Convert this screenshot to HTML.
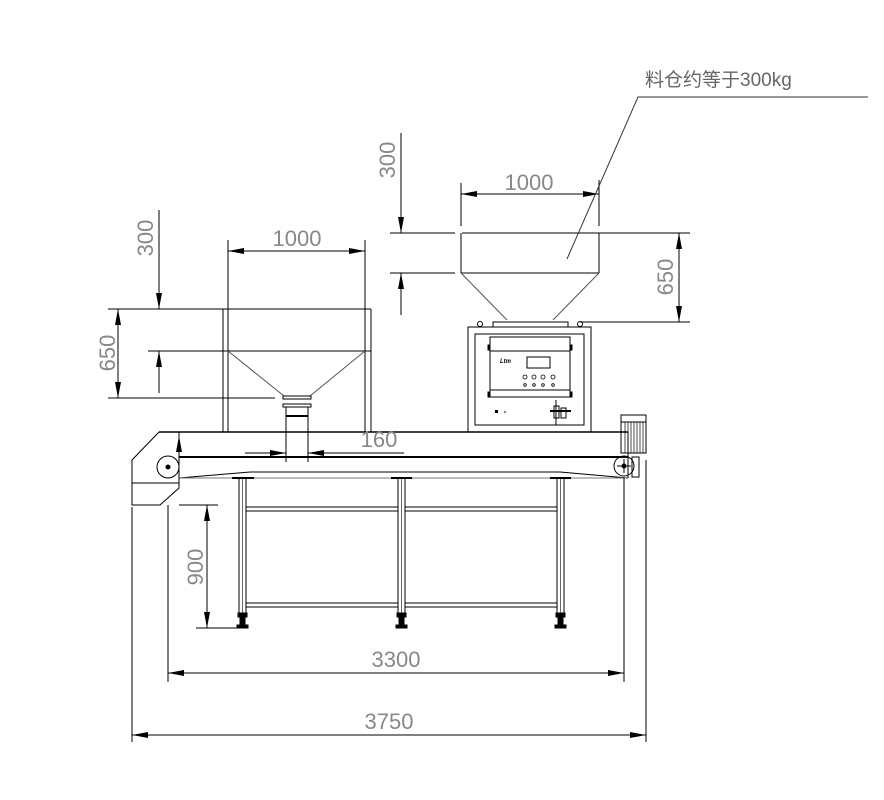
<!DOCTYPE html>
<html><head><meta charset="utf-8"><style>html,body{margin:0;padding:0;background:#fff}svg{display:block}</style></head><body>
<svg width="884" height="800" viewBox="0 0 884 800" xmlns="http://www.w3.org/2000/svg">
<defs>
<marker id="a" viewBox="0 0 16 6" refX="16" refY="3" markerWidth="16" markerHeight="6" markerUnits="userSpaceOnUse" orient="auto"><path d="M0,0L16,3L0,6z" fill="#000"/></marker>
</defs>
<g stroke="#000" stroke-width="1" fill="none">
<line x1="390" y1="233" x2="455" y2="233"/><line x1="462" y1="233" x2="690" y2="233"/>
<line x1="390" y1="273" x2="455" y2="273"/>
<line x1="461" y1="233" x2="461" y2="273"/><line x1="599" y1="233" x2="599" y2="273"/>
<line x1="461" y1="273" x2="599" y2="273"/>
<line x1="461" y1="273" x2="507" y2="320" stroke="#555"/><line x1="599" y1="273" x2="553" y2="320" stroke="#555"/>
<line x1="580" y1="322" x2="690" y2="322"/>
<line x1="461" y1="183" x2="461" y2="226"/><line x1="599" y1="180" x2="599" y2="226"/>
<line x1="530" y1="194" x2="599" y2="194" marker-end="url(#a)"/>
<line x1="530" y1="194" x2="461" y2="194" marker-end="url(#a)"/>
<line x1="401" y1="133" x2="401" y2="233" marker-end="url(#a)"/>
<line x1="401" y1="315" x2="401" y2="273" marker-end="url(#a)"/>
<line x1="679" y1="278" x2="679" y2="233" marker-end="url(#a)"/>
<line x1="679" y1="278" x2="679" y2="322" marker-end="url(#a)"/>
<polyline points="567,259 638,97 868,97" stroke="#333"/>
<line x1="108" y1="309" x2="371" y2="309"/>
<line x1="148" y1="351" x2="371" y2="351"/>
<line x1="108" y1="398" x2="275" y2="398"/>
<line x1="223" y1="309" x2="223" y2="432"/><line x1="228" y1="240" x2="228" y2="432"/>
<line x1="365" y1="240" x2="365" y2="432"/><line x1="371" y1="309" x2="371" y2="432"/>
<line x1="228" y1="351" x2="284" y2="396" stroke="#555"/><line x1="365" y1="351" x2="310" y2="396" stroke="#555"/>
<rect x="283" y="396" width="28" height="3"/>
<rect x="283" y="404" width="28" height="3"/>
<line x1="286" y1="407" x2="286" y2="462"/><line x1="308" y1="407" x2="308" y2="462"/>
<line x1="286" y1="416" x2="308" y2="416" stroke-width="2"/>
<line x1="297" y1="251" x2="365" y2="251" marker-end="url(#a)"/>
<line x1="297" y1="251" x2="228" y2="251" marker-end="url(#a)"/>
<line x1="159" y1="210" x2="159" y2="309" marker-end="url(#a)"/>
<line x1="159" y1="393" x2="159" y2="351" marker-end="url(#a)"/>
<line x1="118" y1="353" x2="118" y2="309" marker-end="url(#a)"/>
<line x1="118" y1="353" x2="118" y2="398" marker-end="url(#a)"/>
<line x1="159" y1="432" x2="628" y2="432" stroke-width="1.5"/>
<line x1="179" y1="457" x2="628" y2="457" stroke-width="2"/>
<polyline points="179,478 250,472 560,472 628,478"/>
<line x1="179" y1="478" x2="628" y2="478" stroke="#777"/>
<polyline points="159,432 132,460 132,505 160,505 179,488 179,432"/>
<line x1="132" y1="483" x2="179" y2="483"/>
<circle cx="168" cy="467" r="11"/><circle cx="168" cy="467" r="2" fill="#000"/>
<line x1="179" y1="457" x2="179" y2="436" marker-end="url(#a)"/>
<line x1="628" y1="432" x2="628" y2="478"/>
<rect x="632" y="457" width="7" height="20"/>
<circle cx="624" cy="466" r="10"/><circle cx="624" cy="466" r="2" fill="#000"/>
<line x1="617" y1="466" x2="631" y2="466"/><line x1="624" y1="459" x2="624" y2="473"/>
<rect x="621" y="415" width="25" height="7"/>
<rect x="621" y="422" width="25" height="31"/>
<path d="M625,422V453M628,422V453M631,422V453M634,422V453M637,422V453M640,422V453M643,422V453" stroke-width="0.7"/>
<line x1="245" y1="453" x2="286" y2="453" marker-end="url(#a)"/>
<line x1="404" y1="453" x2="308" y2="453" marker-end="url(#a)"/>
<rect x="239" y="478" width="7" height="135"/><line x1="242.5" y1="478" x2="242.5" y2="613" stroke-width="0.6"/>
<rect x="398" y="478" width="7" height="135"/><line x1="401.5" y1="478" x2="401.5" y2="613" stroke-width="0.6"/>
<rect x="557" y="478" width="7" height="135"/><line x1="560.5" y1="478" x2="560.5" y2="613" stroke-width="0.6"/>
<line x1="232" y1="478" x2="254" y2="478" stroke-width="2"/><line x1="391" y1="478" x2="412" y2="478" stroke-width="2"/><line x1="550" y1="478" x2="571" y2="478" stroke-width="2"/>
<rect x="246" y="507" width="152" height="4"/><rect x="405" y="507" width="152" height="4"/>
<rect x="246" y="603" width="152" height="4"/><rect x="405" y="603" width="152" height="4"/>
<path d="M238,613h9v4h-9zM240,617h5v8h-5zM237,625h11v3h-11z" fill="#000"/>
<path d="M397,613h9v4h-9zM399,617h5v8h-5zM396,625h11v3h-11z" fill="#000"/>
<path d="M556,613h9v4h-9zM558,617h5v8h-5zM555,625h11v3h-11z" fill="#000"/>
<line x1="179" y1="505" x2="218" y2="505"/><line x1="196" y1="628" x2="243" y2="628"/>
<line x1="207" y1="567" x2="207" y2="505" marker-end="url(#a)"/>
<line x1="207" y1="567" x2="207" y2="628" marker-end="url(#a)"/>
<line x1="132" y1="507" x2="132" y2="742"/><line x1="168" y1="505" x2="168" y2="682"/>
<line x1="624" y1="478" x2="624" y2="682"/><line x1="646" y1="460" x2="646" y2="742"/>
<line x1="396" y1="673" x2="168" y2="673" marker-end="url(#a)"/>
<line x1="396" y1="673" x2="624" y2="673" marker-end="url(#a)"/>
<line x1="389" y1="735" x2="132" y2="735" marker-end="url(#a)"/>
<line x1="389" y1="735" x2="646" y2="735" marker-end="url(#a)"/>
<rect x="493" y="322" width="75" height="5"/>
<circle cx="480" cy="324" r="2.5"/><circle cx="580" cy="324" r="2.5"/>
<rect x="468" y="327" width="123" height="105"/>
<rect x="475" y="334" width="109" height="91"/>
<rect x="490" y="337" width="80" height="60"/>
<line x1="490" y1="351" x2="570" y2="351"/><line x1="490" y1="390" x2="570" y2="390"/>
<rect x="527" y="357" width="23" height="11"/>
<g stroke-width="0.8"><circle cx="525" cy="377" r="2"/><circle cx="534" cy="377" r="2"/><circle cx="543" cy="377" r="2"/><circle cx="553" cy="377" r="2"/>
<circle cx="525" cy="385" r="1.3"/><circle cx="534" cy="385" r="1.3"/><circle cx="543" cy="385" r="1.3"/><circle cx="553" cy="385" r="1.3"/></g>
<rect x="488" y="345" width="2" height="5" fill="#000"/><rect x="570" y="345" width="2" height="5" fill="#000"/>
<rect x="488" y="392" width="2" height="5" fill="#000"/><rect x="570" y="392" width="2" height="5" fill="#000"/>
<line x1="550" y1="411" x2="571" y2="411" stroke-width="2"/>
<rect x="554" y="406" width="5" height="12"/><rect x="561" y="408" width="5" height="10"/>
<line x1="556" y1="400" x2="556" y2="425"/>
</g>
<rect x="495" y="410" width="3" height="3" fill="#000"/><circle cx="505" cy="412" r="1.2" fill="#888"/>
<text x="500" y="363" font-family="Liberation Sans" font-size="6" font-weight="bold" font-style="italic">Ltm</text>
<g font-family="Liberation Sans, sans-serif" fill="#888" font-size="22">
<text x="529" y="190" text-anchor="middle">1000</text>
<text x="297" y="246" text-anchor="middle">1000</text>
<text x="379" y="447" text-anchor="middle">160</text>
<text x="396" y="667" text-anchor="middle">3300</text>
<text x="389" y="729" text-anchor="middle">3750</text>
<text transform="translate(395,160) rotate(-90)" text-anchor="middle">300</text>
<text transform="translate(153,238) rotate(-90)" text-anchor="middle">300</text>
<text transform="translate(673,277) rotate(-90)" text-anchor="middle">650</text>
<text transform="translate(115,353) rotate(-90)" text-anchor="middle">650</text>
<text transform="translate(203,567) rotate(-90)" text-anchor="middle">900</text>
<text x="645" y="86" font-size="19" font-family="Liberation Sans, 'Noto Sans CJK SC', sans-serif" fill="#666">料仓约等于300kg</text>
</g>
</svg>
</body></html>
